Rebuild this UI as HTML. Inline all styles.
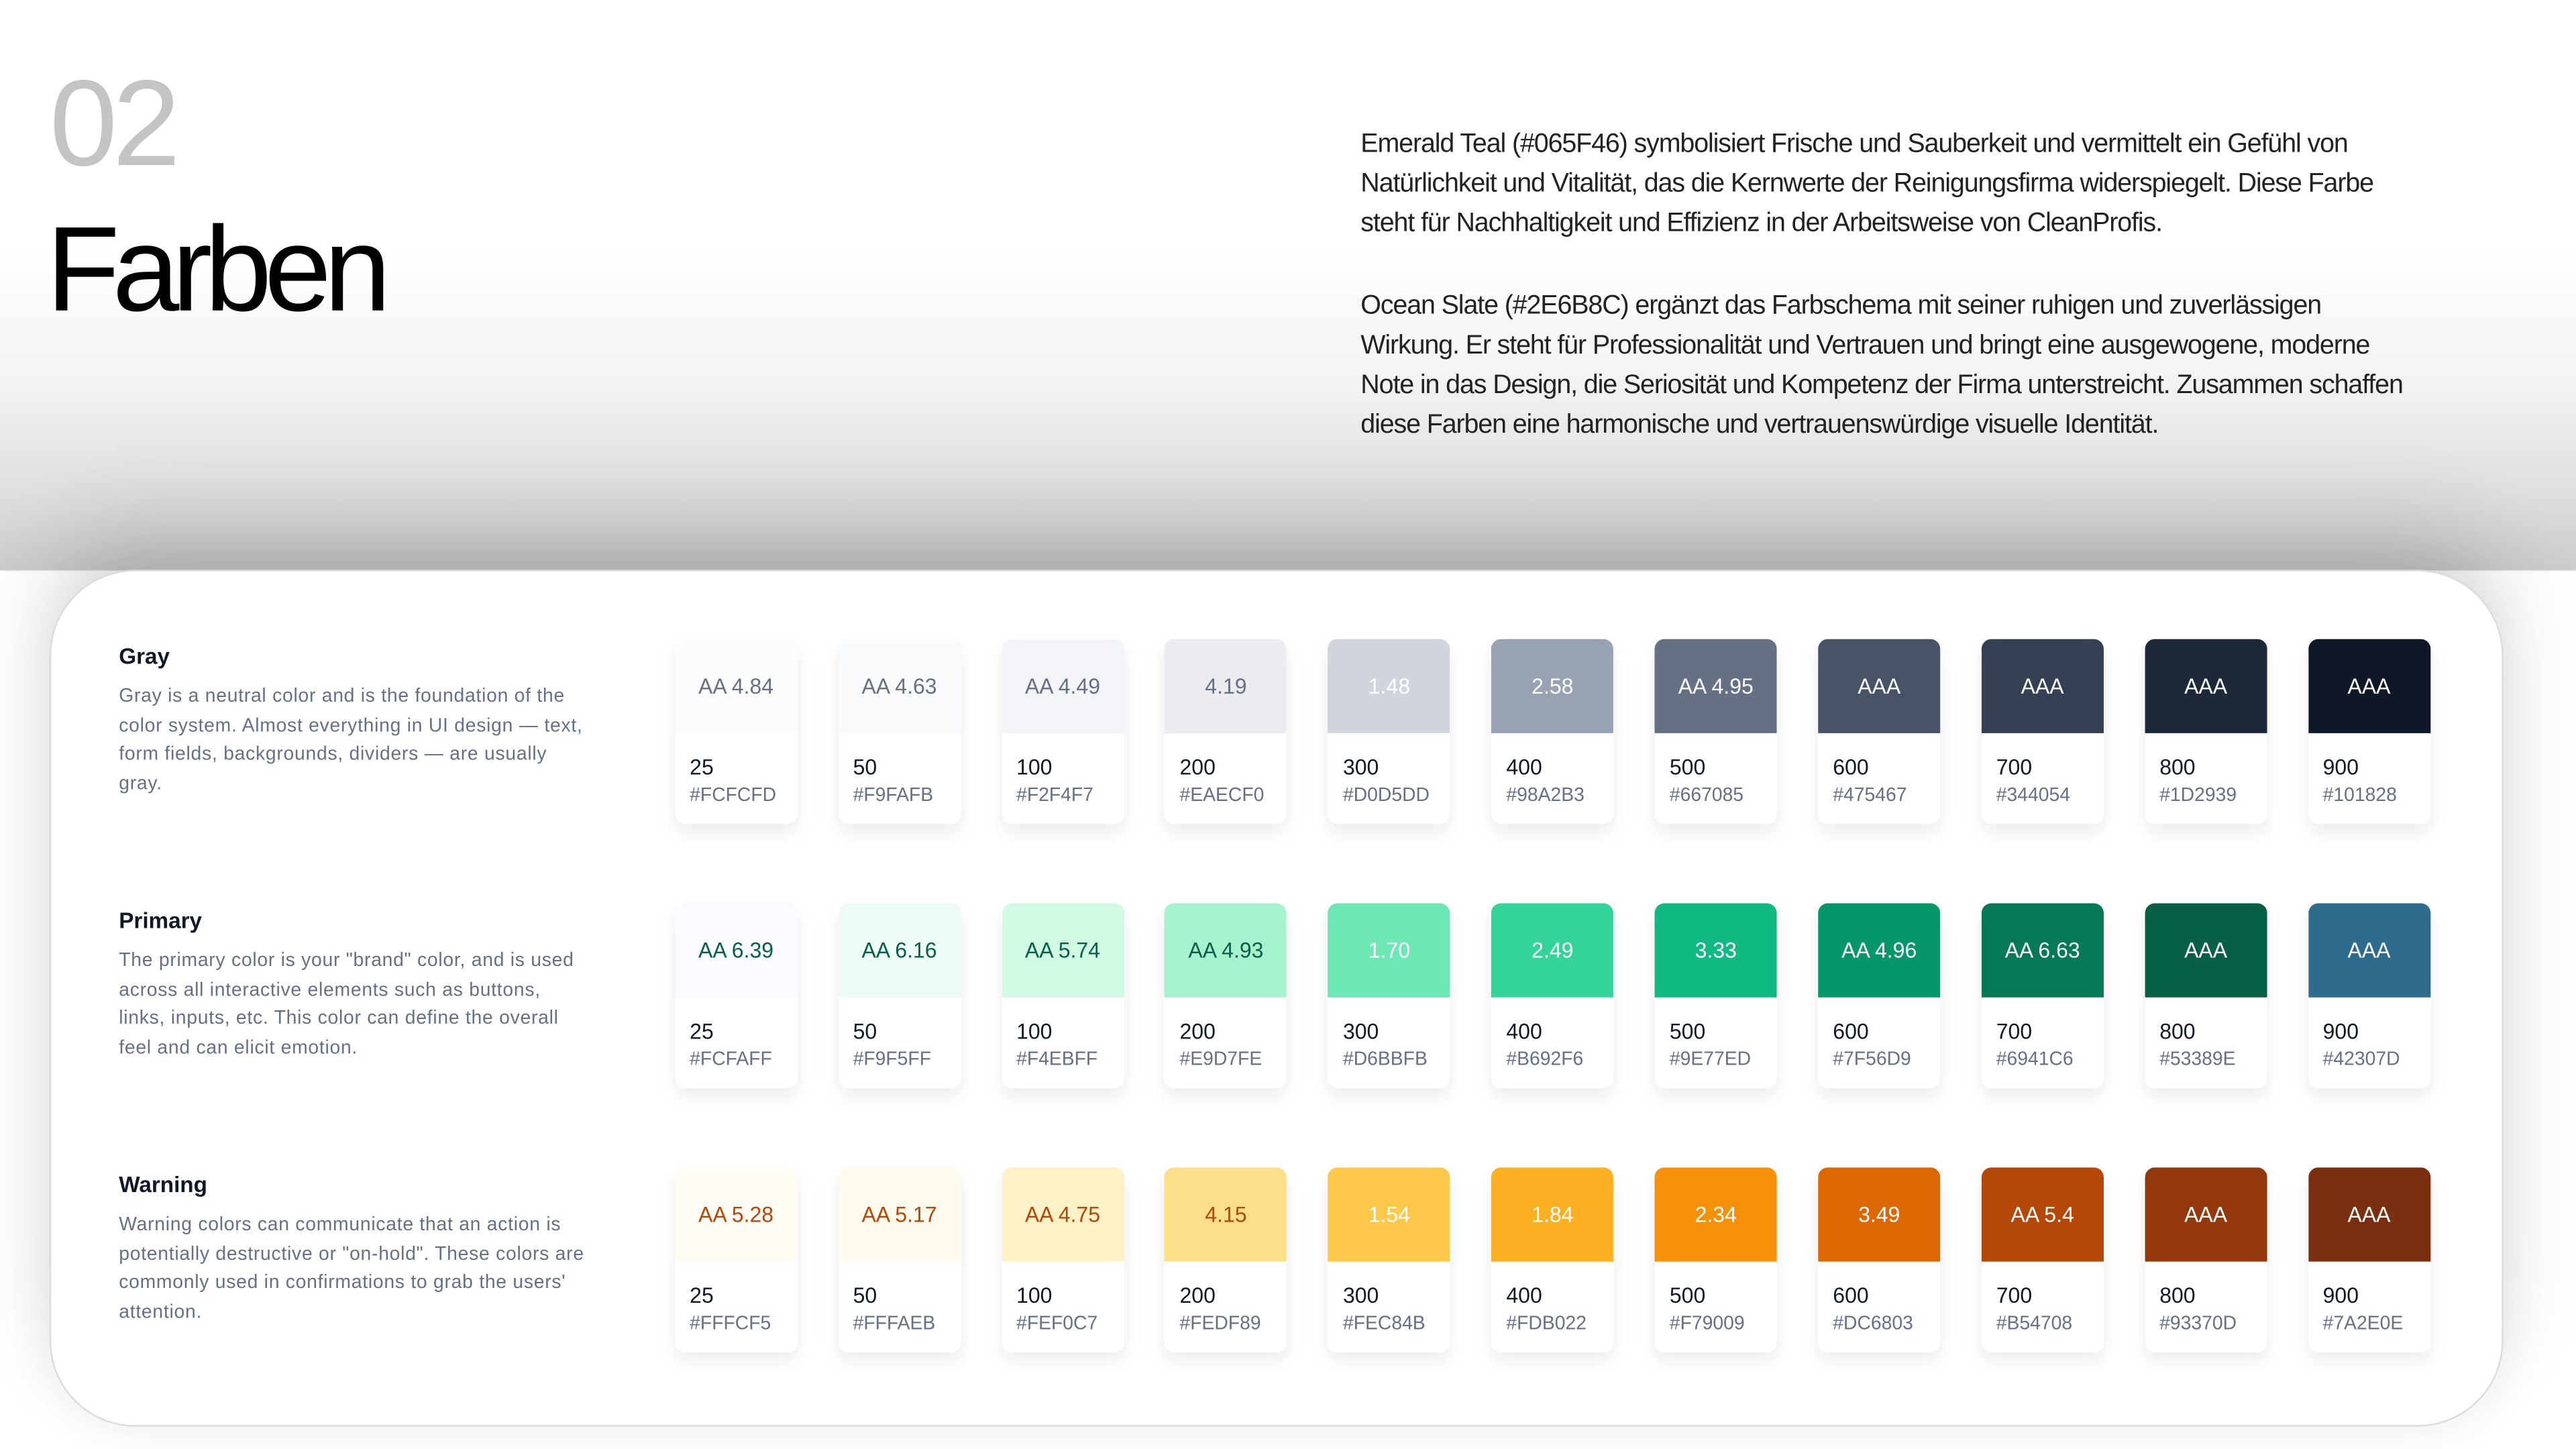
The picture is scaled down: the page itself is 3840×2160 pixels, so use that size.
<!DOCTYPE html>
<html><head><meta charset="utf-8"><style>
html,body{margin:0;padding:0;}
body{width:3840px;height:2160px;overflow:hidden;background:#fff;position:relative;font-family:"Liberation Sans",sans-serif;}
#w{position:absolute;left:0;top:0;width:1560px;height:877.5px;transform:scale(2.461538);transform-origin:0 0;background:linear-gradient(#fff 0px,#fff 150px,#f3f3f3 230px,#dedede 300px,#cbcbcb 345px,#fff 346px);}
.a{position:absolute;}
.num{left:30px;top:38px;font-size:74px;color:#c4c4c4;letter-spacing:-3px;line-height:1;}
.tt{left:28px;top:127px;font-size:73px;color:#000;letter-spacing:-4.5px;line-height:1;}
.p{left:824px;white-space:nowrap;font-size:16px;line-height:24px;color:#222;letter-spacing:-0.45px;}
.card{left:30px;top:345px;width:1484px;height:517px;background:#fff;border-radius:52px;border:1px solid #dcdcdc;box-shadow:0 -30px 60px rgba(0,0,0,.12),0 0 30px rgba(0,0,0,.06);}
.h{left:72px;font-size:13.5px;font-weight:bold;color:#101828;}
.d{left:72px;white-space:nowrap;font-size:11.5px;line-height:17.5px;color:#667085;letter-spacing:0.3px;}
.s{position:absolute;width:74px;height:112px;background:#fff;border-radius:6px;box-shadow:0 5px 10px rgba(16,24,40,.08);overflow:hidden;}
.s .c{height:57px;display:flex;align-items:center;justify-content:center;font-size:13px;}
.s .n{position:absolute;left:9px;top:70px;font-size:13px;color:#101828;}
.s .x{position:absolute;left:9px;top:89px;font-size:11.5px;color:#667085;}
</style></head><body><div id="w">
<div class="a num">02</div>
<div class="a tt">Farben</div>
<div class="a p" style="top:76px">Emerald Teal (#065F46) symbolisiert Frische und Sauberkeit und vermittelt ein Gefühl von<br>Natürlichkeit und Vitalität, das die Kernwerte der Reinigungsfirma widerspiegelt. Diese Farbe<br>steht für Nachhaltigkeit und Effizienz in der Arbeitsweise von CleanProfis.</div>
<div class="a p" style="top:174px">Ocean Slate (#2E6B8C) ergänzt das Farbschema mit seiner ruhigen und zuverlässigen<br>Wirkung. Er steht für Professionalität und Vertrauen und bringt eine ausgewogene, moderne<br>Note in das Design, die Seriosität und Kompetenz der Firma unterstreicht. Zusammen schaffen<br>diese Farben eine harmonische und vertrauenswürdige visuelle Identität.</div>
<div class="a card"></div>
<div class="a h" style="top:390px">Gray</div>
<div class="a d" style="top:414px">Gray is a neutral color and is the foundation of the<br>color system. Almost everything in UI design — text,<br>form fields, backgrounds, dividers — are usually<br>gray.</div>
<div class="a h" style="top:550px">Primary</div>
<div class="a d" style="top:574px">The primary color is your "brand" color, and is used<br>across all interactive elements such as buttons,<br>links, inputs, etc. This color can define the overall<br>feel and can elicit emotion.</div>
<div class="a h" style="top:710px">Warning</div>
<div class="a d" style="top:734px">Warning colors can communicate that an action is<br>potentially destructive or "on-hold". These colors are<br>commonly used in confirmations to grab the users'<br>attention.</div>
<div id="sw"></div>
</div>
<script>
var rows=[
{y:387,l:["AA 4.84","AA 4.63","AA 4.49","4.19","1.48","2.58","AA 4.95","AAA","AAA","AAA","AAA"],
bg:["#FCFCFD","#F9FAFB","#F2F4F7","#EAECF0","#D0D5DD","#98A2B3","#667085","#475467","#344054","#1D2939","#101828"],
hx:["#FCFCFD","#F9FAFB","#F2F4F7","#EAECF0","#D0D5DD","#98A2B3","#667085","#475467","#344054","#1D2939","#101828"],dark:"#667085",nl:4},
{y:547,l:["AA 6.39","AA 6.16","AA 5.74","AA 4.93","1.70","2.49","3.33","AA 4.96","AA 6.63","AAA","AAA"],
bg:["#FBFAFF","#EDFDF5","#D1FAE5","#A7F3D0","#6EE7B7","#34D399","#10B981","#059669","#047857","#065F46","#2E6B8C"],
hx:["#FCFAFF","#F9F5FF","#F4EBFF","#E9D7FE","#D6BBFB","#B692F6","#9E77ED","#7F56D9","#6941C6","#53389E","#42307D"],dark:"#065F46",nl:4},
{y:707,l:["AA 5.28","AA 5.17","AA 4.75","4.15","1.54","1.84","2.34","3.49","AA 5.4","AAA","AAA"],
bg:["#FFFCF5","#FFFAEB","#FEF0C7","#FEDF89","#FEC84B","#FDB022","#F79009","#DC6803","#B54708","#93370D","#7A2E0E"],
hx:["#FFFCF5","#FFFAEB","#FEF0C7","#FEDF89","#FEC84B","#FDB022","#F79009","#DC6803","#B54708","#93370D","#7A2E0E"],dark:"#B54708",nl:4}];
var nums=["25","50","100","200","300","400","500","600","700","800","900"],h="";
rows.forEach(function(r){for(var i=0;i<11;i++){var x=408.7+i*98.9;var tc=i<r.nl?r.dark:"#fff";
h+='<div class="s" style="left:'+x+'px;top:'+r.y+'px"><div class="c" style="background:'+r.bg[i]+';color:'+tc+'">'+r.l[i]+'</div><div class="n">'+nums[i]+'</div><div class="x">'+r.hx[i]+'</div></div>';}});
document.getElementById("sw").innerHTML=h;
</script>
</body></html>
